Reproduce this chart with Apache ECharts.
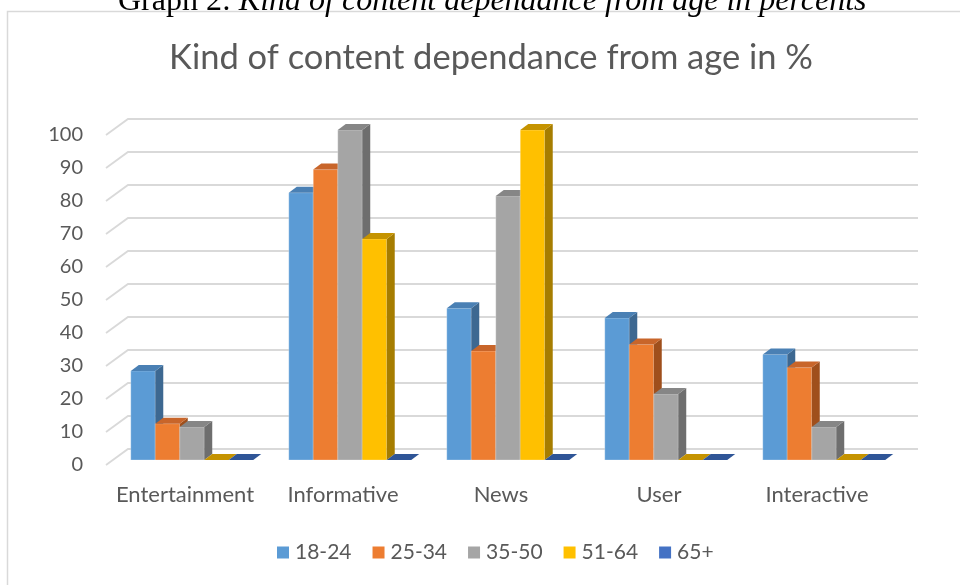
<!DOCTYPE html>
<html>
<head>
<meta charset="utf-8">
<script src="https://cdn.jsdelivr.net/npm/echarts@6/dist/echarts.min.js"></script>
<style>
html,body{margin:0;padding:0;background:#fff;}
#main{width:960px;height:585px;}
</style>
</head>
<body>
<div id="main"></div>
<script>
const categories = ['Entertainment', 'Informative', 'News', 'User', 'Interactive'];
const seriesNames = ['18-24', '25-34', '35-50', '51-64', '65+'];
const v18_24 = [27, 81, 46, 43, 32];
const v25_34 = [11, 88, 33, 35, 28];
const v35_50 = [10, 100, 80, 20, 10];
const v51_64 = [0, 67, 100, 0, 0];
const v65plus = [0, 0, 0, 0, 0];
const yTicks = [0, 10, 20, 30, 40, 50, 60, 70, 80, 90, 100];

const seriesValues = [v18_24, v25_34, v35_50, v51_64, v65plus];
const palette = [
  { front: '#5B9BD5', top: '#4A80B4', side: '#3D6891' },
  { front: '#ED7D31', top: '#C8652A', side: '#9F4F1C' },
  { front: '#A5A5A5', top: '#868686', side: '#6E6E6E' },
  { front: '#FFC000', top: '#C59300', side: '#A67D00' },
  { front: '#4472C4', top: '#2F5597', side: '#2C4E8A' }
];

const FLOOR_DX = 22, FLOOR_DY = -16;
const SHIFT_X = 7, SHIFT_Y = -5;
const DEPTH_X = 8, DEPTH_Y = -6;
const BAR_FRAC = 0.155;
const FONT = 'Lato, "Open Sans", sans-serif';

function gridRender(params, api) {
  const cs = params.coordSys;
  const y = api.coord([0, api.value(1)])[1];
  const x0 = cs.x, x1 = cs.x + FLOOR_DX, x2 = cs.x + cs.width + FLOOR_DX;
  return {
    type: 'polyline',
    shape: { points: [[x0, y], [x1, y + FLOOR_DY], [x2, y + FLOOR_DY]] },
    style: { stroke: '#D9D9D9', lineWidth: 1.8, fill: null }
  };
}

function barRender(si) {
  const col = palette[si];
  return function (params, api) {
    const ci = api.value(0), val = api.value(1);
    const base = api.coord([ci, 0]);
    const tp = api.coord([ci, val]);
    const band = api.size([1, 0])[0];
    const bw = band * BAR_FRAC;
    const gw = bw * seriesNames.length;
    const xl = base[0] - gw / 2 + si * bw + SHIFT_X;
    const xr = xl + bw;
    const yb = base[1] + SHIFT_Y;
    const yt = tp[1] + SHIFT_Y;
    const children = [];
    if (val > 0) {
      children.push({
        type: 'rect',
        shape: { x: xl, y: yt, width: bw, height: yb - yt },
        style: { fill: col.front, stroke: 'rgba(255,255,255,0.35)', lineWidth: 0.8 }
      });
      children.push({
        type: 'polygon',
        shape: { points: [[xr, yt], [xr + DEPTH_X, yt + DEPTH_Y], [xr + DEPTH_X, yb + DEPTH_Y], [xr, yb]] },
        style: { fill: col.side }
      });
    }
    children.push({
      type: 'polygon',
      shape: { points: [[xl, yt], [xl + DEPTH_X, yt + DEPTH_Y], [xr + DEPTH_X, yt + DEPTH_Y], [xr, yt]] },
      style: { fill: col.top }
    });
    return { type: 'group', children: children };
  };
}

const chart = echarts.init(document.getElementById('main'), null, { renderer: 'canvas' });

const series = [{
  type: 'custom',
  name: '__grid',
  silent: true,
  renderItem: gridRender,
  data: yTicks.map(function (t) { return [0, t]; }),
  z: 1
}];
seriesNames.forEach(function (n, si) {
  series.push({
    type: 'custom',
    name: n,
    renderItem: barRender(si),
    itemStyle: { color: palette[si].front },
    data: seriesValues[si].map(function (v, ci) { return [ci, v]; }),
    z: 2 + si
  });
});

chart.setOption({
  animation: false,
  backgroundColor: '#fff',
  title: {
    text: 'Kind of content dependance from age in %',
    left: 486,
    top: 35,
    textAlign: 'center',
    textStyle: { fontFamily: FONT, fontSize: 34.5, fontWeight: 'normal', color: '#595959' }
  },
  graphic: [
    {
      type: 'rect',
      shape: { x: 7.5, y: 11.5, width: 1000, height: 640 },
      style: { fill: null, stroke: '#D9D9D9', lineWidth: 1.5 },
      silent: true
    },
    {
      type: 'text',
      left: 118,
      top: -14,
      style: {
        text: '{n|Graph 2: }{i|Kind of content dependance from age in percents}',
        rich: {
          n: { fontFamily: '"Liberation Serif", serif', fontSize: 32, fill: '#000' },
          i: { fontFamily: '"Liberation Serif", serif', fontSize: 32, fontStyle: 'italic', fill: '#000' }
        }
      },
      silent: true
    }
  ],
  legend: {
    data: seriesNames,
    left: 272,
    top: 537,
    icon: 'rect',
    itemWidth: 12,
    itemHeight: 12,
    itemGap: 21,
    textStyle: { fontFamily: FONT, fontSize: 21, color: '#595959', padding: [0, 0, 0, 1] }
  },
  grid: { left: 106, right: 64, top: 135, bottom: 120 },
  xAxis: {
    type: 'category',
    data: categories,
    axisLine: { show: false },
    axisTick: { show: false },
    splitLine: { show: false },
    axisLabel: { interval: 0, fontFamily: FONT, fontSize: 22, color: '#595959', margin: 19 }
  },
  yAxis: {
    type: 'value',
    min: 0,
    max: 100,
    interval: 10,
    axisLine: { show: false },
    axisTick: { show: false },
    splitLine: { show: false },
    axisLabel: { fontFamily: FONT, fontSize: 20, color: '#595959', margin: 23 }
  },
  series: series
});
</script>
</body>
</html>
